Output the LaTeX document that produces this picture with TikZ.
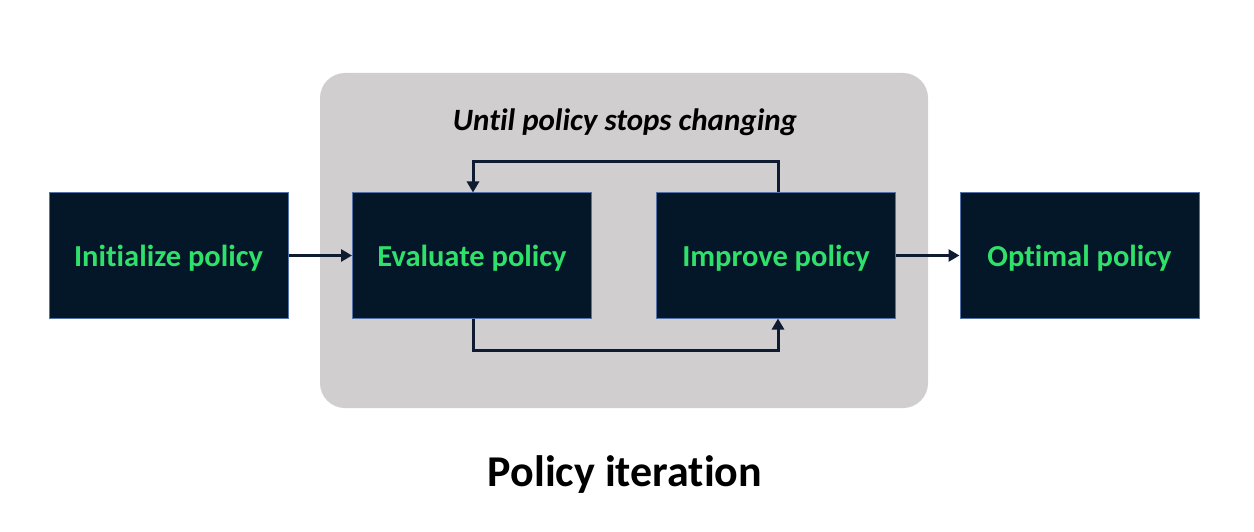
\documentclass[tikz,border=0pt]{standalone}
\usepackage{fontspec}
\setmainfont{Carlito}[Ligatures=NoCommon]
\usetikzlibrary{arrows.meta}
\definecolor{boxfill}{HTML}{041729}
\definecolor{boxedge}{HTML}{5573A8}
\definecolor{txtgreen}{HTML}{2FE06A}
\definecolor{panel}{HTML}{D0CECE}
\definecolor{linec}{HTML}{0E1B30}
\tikzset{
  x=1pt, y=-1pt,
  stepbox/.style={draw=boxedge, line width=1pt, fill=boxfill, minimum width=239pt, minimum height=125pt, inner sep=0pt, text=txtgreen, text height=28pt, text depth=6pt, font=\fontsize{30.5}{36}\selectfont\bfseries},
  conn/.style={draw=linec, line width=3pt, -{Triangle[length=11pt,width=12pt]}}
}
\begin{document}
\begin{tikzpicture}
\useasboundingbox (0,0) rectangle (1254,532);
\fill[panel, rounded corners=25pt] (320,73) rectangle (928,408);
\node[stepbox] (init) at (168.5,255.5) {Initialize policy};
\node[stepbox] (eval) at (472,255.5) {Evaluate policy};
\node[stepbox] (impr) at (776,255.5) {Improve policy};
\node[stepbox] (opt) at (1079.5,255.5) {Optimal policy};
\node[font=\fontsize{31}{36}\selectfont\bfseries\itshape] (until) at (625,122) {Until policy stops changing};
\node[font=\fontsize{44}{50}\selectfont\bfseries] (title) at (625,475) {Policy iteration};
\coordinate (tl) at (473,162);
\coordinate (tr) at (778,162);
\coordinate (bl) at (473,350);
\coordinate (br) at (778,350);
\draw[conn] (init.east) -- (eval.west);
\draw[conn] (impr.east) -- (opt.west);
\draw[conn] (impr.north -| tr) -- (tr) -- (tl) -- (eval.north -| tl);
\draw[conn] (eval.south -| bl) -- (bl) -- (br) -- (impr.south -| br);
\end{tikzpicture}
\end{document}
